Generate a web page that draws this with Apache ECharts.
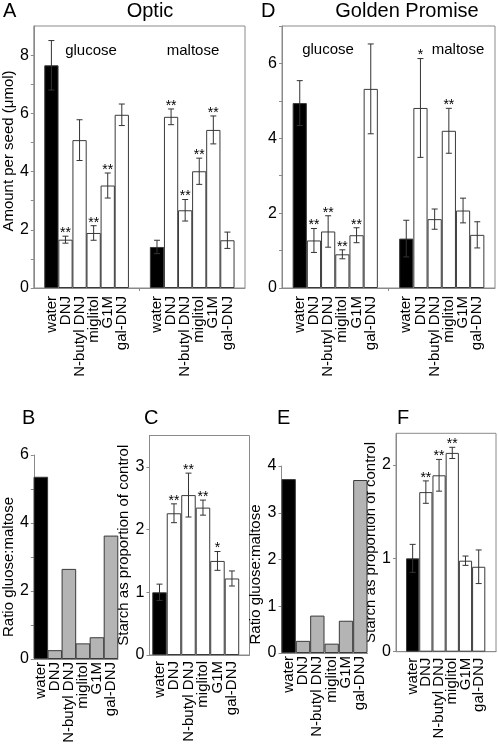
<!DOCTYPE html>
<html><head><meta charset="utf-8">
<script src="https://cdn.jsdelivr.net/npm/echarts@6/dist/echarts.min.js"></script>
<style>html,body{margin:0;padding:0;background:#fff}#c{width:498px;height:753px}</style>
</head><body><div id="c"></div>
<script>
// ---------- data ----------
const treatments = ['water','DNJ','N-butyl DNJ','miglitol','G1M','gal-DNJ'];

// Panel A (Optic) amount per seed (µmol)
const opticGlucose    = [7.65, 1.66, 5.08, 1.89, 3.52, 5.95];
const opticGlucoseErr = [0.85, 0.12, 0.70, 0.25, 0.43, 0.37];
const opticGlucoseSig = ['', '**', '', '**', '**', ''];
const opticMaltose    = [1.41, 5.88, 2.67, 4.01, 5.43, 1.64];
const opticMaltoseErr = [0.23, 0.27, 0.37, 0.45, 0.48, 0.28];
const opticMaltoseSig = ['', '**', '**', '**', '**', ''];

// Panel D (Golden Promise)
const gpGlucose    = [4.94, 1.27, 1.51, 0.90, 1.41, 5.32];
const gpGlucoseErr = [0.60, 0.32, 0.42, 0.12, 0.20, 1.20];
const gpGlucoseSig = ['', '**', '**', '**', '**', ''];
const gpMaltose    = [1.32, 4.81, 1.84, 4.20, 2.07, 1.42];
const gpMaltoseErr = [0.49, 1.32, 0.27, 0.60, 0.33, 0.35];
const gpMaltoseSig = ['', '*', '', '**', '', ''];

// Panels B / E ratio glucose:maltose
const opticRatio = [5.36, 0.26, 2.65, 0.46, 0.64, 3.63];
const gpRatio    = [3.72, 0.26, 0.80, 0.20, 0.69, 3.70];

// Panels C / F starch as proportion of control
const opticStarch    = [1.00, 2.26, 2.55, 2.35, 1.50, 1.22];
const opticStarchErr = [0.13, 0.15, 0.35, 0.12, 0.15, 0.12];
const opticStarchSig = ['', '**', '**', '**', '*', ''];
const gpStarch    = [1.00, 1.71, 1.89, 2.13, 0.975, 0.91];
const gpStarchErr = [0.15, 0.12, 0.17, 0.06, 0.05, 0.18];
const gpStarchSig = ['', '**', '**', '**', '', ''];

// tick labels
const ticksA = [0, 2, 4, 6, 8];
const ticksD = [0, 2, 4, 6];
const ticksB = [0, 2, 4, 6];
const ticksC = [0, 1, 2, 3];
const ticksE = [0, 1, 2, 3, 4];
const ticksF = [0, 1, 2];

// ---------- build ----------
const FONT = '"Liberation Sans", Arial, Helvetica, sans-serif';
const AXIS = '#8a8a8a';
const grids = [], xAxes = [], yAxes = [], series = [];

function range(n) { return Array.from({length: n}, (_, i) => i); }

function addPanel(p) {
  const gi = grids.length;
  const xs = p.xs;
  grids.push({left: p.left, top: p.top, width: p.width, height: p.height, show: p.box,
    borderColor: AXIS, borderWidth: 1, backgroundColor: 'transparent'});
  // extremes get empty labels so no real label is dropped by min/max overlap handling
  const labelVals = [p.xmin].concat(xs, [p.xmax]);
  xAxes.push({type: 'value', gridIndex: gi, min: p.xmin, max: p.xmax,
    splitLine: {show: false},
    axisLine: {show: true, onZero: false, lineStyle: {color: AXIS}},
    axisTick: {show: true, customValues: p.xTicks || [], length: 3, lineStyle: {color: AXIS}},
    axisLabel: {show: true, customValues: labelVals, rotate: 90, margin: p.labelMargin, fontSize: 15,
      color: '#000', fontFamily: FONT, showMinLabel: false, showMaxLabel: false, hideOverlap: false,
      formatter: (v) => { const i = xs.indexOf(v); return i >= 0 ? p.names[i] : ''; }}});
  yAxes.push({type: 'value', gridIndex: gi, min: 0, max: p.ymax,
    splitLine: {show: false},
    axisLine: {show: true, onZero: false, lineStyle: {color: AXIS}},
    axisTick: {show: true, customValues: p.yTickMarks, length: 3, lineStyle: {color: AXIS}},
    axisLabel: {customValues: p.yLabels, fontSize: 16, color: '#000', margin: 5, fontFamily: FONT,
      showMinLabel: true, showMaxLabel: true},
    name: p.yName || '', nameLocation: 'middle', nameGap: p.nameGap || 15,
    nameTextStyle: {fontSize: 15, color: '#000', fontFamily: FONT, padding: p.namePad || 0}});
  const bw = p.width / (p.xmax - p.xmin);
  series.push({type: 'bar', xAxisIndex: gi, yAxisIndex: gi, barWidth: bw, silent: true,
    data: p.values.map((v, i) => [xs[i], v]),
    itemStyle: {color: (q) => p.fills[q.dataIndex], borderColor: '#3a3a3a', borderWidth: 1}});
  if (p.errs) {
    const sig = p.sig;
    series.push({type: 'custom', xAxisIndex: gi, yAxisIndex: gi, silent: true, z: 5,
      data: p.values.map((v, i) => [xs[i], v, p.errs[i]]),
      renderItem: (params, api) => {
        const x = api.value(0), v = api.value(1), e = api.value(2);
        const t = api.coord([x, v + e]), b = api.coord([x, v - e]);
        const cap = 3;
        const st = {stroke: '#333', lineWidth: 1};
        const ch = [
          {type: 'line', shape: {x1: t[0], y1: t[1], x2: b[0], y2: b[1]}, style: st},
          {type: 'line', shape: {x1: t[0] - cap, y1: t[1], x2: t[0] + cap, y2: t[1]}, style: st},
          {type: 'line', shape: {x1: b[0] - cap, y1: b[1], x2: b[0] + cap, y2: b[1]}, style: st}
        ];
        const s = sig[params.dataIndex];
        if (s) ch.push({type: 'text', x: t[0], y: t[1] - 3,
          style: {text: s, fill: '#000', font: '14px ' + FONT, textAlign: 'center', textVerticalAlign: 'middle'}});
        return {type: 'group', children: ch};
      }});
  }
}

const groupXs = range(12).map(i => i < 6 ? i : i + 1.5);
const sixXs = range(6);
const whiteFills = ['#000'].concat(range(5).map(() => '#fff'));
const greyFills = ['#000'].concat(range(5).map(() => '#b4b4b4'));

addPanel({left: 31, top: 26, width: 214, height: 262, box: true,
  xs: groupXs, xmin: -1.25, xmax: 13.75, xTicks: [6.25], names: treatments.concat(treatments),
  labelMargin: 8, ymax: 9, yTickMarks: range(9), yLabels: ticksA,
  yName: 'Amount per seed (μmol)', nameGap: 14, namePad: [0, 0, 0, 12],
  values: opticGlucose.concat(opticMaltose), errs: opticGlucoseErr.concat(opticMaltoseErr),
  sig: opticGlucoseSig.concat(opticMaltoseSig), fills: whiteFills.concat(whiteFills)});

addPanel({left: 282, top: 26, width: 213, height: 262, box: true,
  xs: groupXs, xmin: -1.25, xmax: 13.75, xTicks: [6.25], names: treatments.concat(treatments),
  labelMargin: 8, ymax: 7, yTickMarks: range(8), yLabels: ticksD,
  values: gpGlucose.concat(gpMaltose), errs: gpGlucoseErr.concat(gpMaltoseErr),
  sig: gpGlucoseSig.concat(gpMaltoseSig), fills: whiteFills.concat(whiteFills)});

addPanel({left: 30.5, top: 455, width: 87.5, height: 204, box: false,
  xs: sixXs, xmin: -0.5, xmax: 5.5, names: treatments, labelMargin: 3,
  ymax: 6, yTickMarks: range(7), yLabels: ticksB,
  yName: 'Ratio gluose:maltose', nameGap: 13, namePad: [0, 20, 0, 0],
  values: opticRatio, fills: greyFills});

addPanel({left: 149.5, top: 435.5, width: 100, height: 219.5, box: true,
  xs: sixXs, xmin: -0.69, xmax: 6.21, names: treatments, labelMargin: 6,
  ymax: 3.5, yTickMarks: ticksC, yLabels: ticksC,
  yName: 'Starch as proportion of control', nameGap: 16,
  values: opticStarch, errs: opticStarchErr, sig: opticStarchSig, fills: whiteFills});

addPanel({left: 281.5, top: 466, width: 86, height: 187, box: false,
  xs: sixXs, xmin: -0.5, xmax: 5.5, names: treatments, labelMargin: 3,
  ymax: 4, yTickMarks: ticksE, yLabels: ticksE,
  yName: 'Ratio gluose:maltose', nameGap: 16, namePad: [0, 30, 0, 0],
  values: gpRatio, fills: greyFills});

addPanel({left: 396, top: 433.3, width: 100, height: 218.4, box: true,
  xs: sixXs, xmin: -1.26, xmax: 6.31, names: treatments, labelMargin: 6,
  ymax: 2.34, yTickMarks: ticksF, yLabels: ticksF,
  yName: 'Starch as proportion of control', nameGap: 13,
  values: gpStarch, errs: gpStarchErr, sig: gpStarchSig, fills: whiteFills});

function txt(x, y, s, size, align) {
  return {type: 'text', x: x, y: y, silent: true,
    style: {text: s, font: size + 'px ' + FONT, fill: '#000', textAlign: align || 'left', textVerticalAlign: 'middle'}};
}

const chart = echarts.init(document.getElementById('c'), null, {renderer: 'canvas'});
chart.setOption({
  animation: false,
  backgroundColor: '#fff',
  grid: grids, xAxis: xAxes, yAxis: yAxes, series: series,
  graphic: [
    txt(3, 11, 'A', 20), txt(150, 11, 'Optic', 20, 'center'),
    txt(261, 11, 'D', 20), txt(407, 11, 'Golden Promise', 20, 'center'),
    txt(91, 51, 'glucose', 15, 'center'), txt(193, 51, 'maltose', 15, 'center'),
    txt(328, 50, 'glucose', 15, 'center'), txt(458, 50, 'maltose', 15, 'center'),
    txt(22, 418.5, 'B', 20), txt(144, 418.5, 'C', 20),
    txt(277, 418.5, 'E', 20), txt(397, 418.5, 'F', 20)
  ]
});
</script>
</body></html>
